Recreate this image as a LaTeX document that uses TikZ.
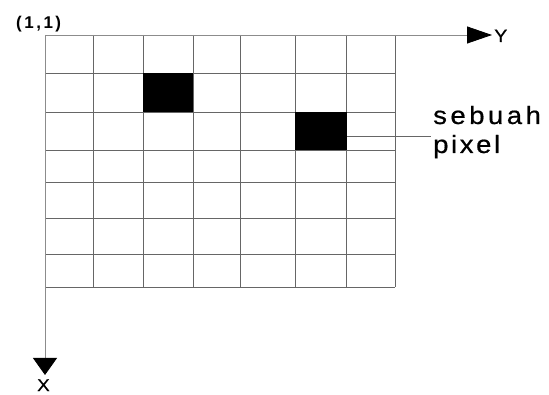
\documentclass[tikz,border=0pt]{standalone}
\usepackage{fontspec}
\setmainfont{Liberation Sans}
\newfontfamily\labelfont[FakeStretch=1.1,FakeBold=0.6]{Liberation Sans}
\usetikzlibrary{arrows.meta}
\newcommand\spc[1]{\kern#1pt\relax}
\begin{document}
\begin{tikzpicture}[x=1pt,y=-1pt,
  gridline/.style={draw=black!60,line width=0.8pt},
  axisline/.style={draw=black!45,line width=0.8pt},
  pixelbox/.style={fill=black,draw=none,inner sep=0pt,outer sep=0pt},
  lbl/.style={inner sep=0pt,anchor=base west}]
\useasboundingbox[fill=white] (0,0) rectangle (549,395);
% grid
\foreach \x in {93,143,193,240,295,346,395} \draw[gridline] (\x,35) -- (\x,287);
\foreach \y in {73,112,150,182,218,254,287} \draw[gridline] (45,\y) -- (395,\y);
% pixels
\node[pixelbox,minimum width=50pt,minimum height=39pt,anchor=north west] (p1) at (143,73) {};
\node[pixelbox,minimum width=52pt,minimum height=38pt,anchor=north west] (p2) at (295,112) {};
% axes
\coordinate (o) at (45,35);
\coordinate (yend) at (492,35);
\coordinate (xend) at (45,375);
\draw[axisline,-{Triangle[length=25pt,width=17pt,color=black]}] (o) -- (yend);
\draw[axisline,-{Triangle[length=17pt,width=24pt,color=black]}] (o) -- (xend);
% labels
\node[lbl,font=\fontsize{17}{19}\selectfont\bfseries] (orig) at (16,29) {(\spc{2.5}1\spc{2.5},\spc{2.5}1\spc{2.5})};
\node[lbl,font=\labelfont\fontsize{18}{20}\selectfont] (ylab) at (494,42) {Y};
\node[lbl,font=\labelfont\fontsize{17}{20}\selectfont] (xlab) at (37,391) {X};
\node[lbl,font=\labelfont\fontsize{25}{28}\selectfont] (name1) at (433,124) {s\spc{3.5}e\spc{3.5}b\spc{3.5}u\spc{3.5}a\spc{3.5}h};
\node[lbl,font=\labelfont\fontsize{25}{28}\selectfont] (name2) at (433,153) {p\spc{2.6}i\spc{2.6}x\spc{2.6}e\spc{2.6}l};
\coordinate (lead) at (431,136);
\draw[gridline] (p2.east |- lead) -- (lead);
\end{tikzpicture}
\end{document}
